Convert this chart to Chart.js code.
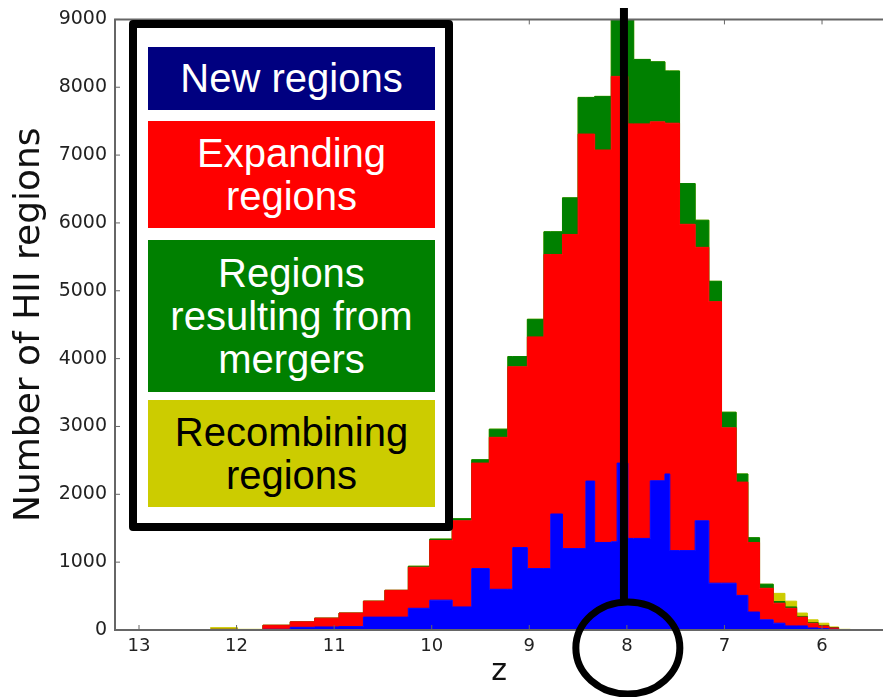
<!DOCTYPE html>
<html>
<head>
<meta charset="utf-8">
<script src="https://cdn.jsdelivr.net/npm/chart.js@4.4.1/dist/chart.umd.min.js"></script>
<style>
  html, body { margin: 0; padding: 0; background: #fff; overflow: hidden; }
  #wrap { position: relative; width: 883px; height: 697px; }
  #legendBox {
    position: absolute; left: 129px; top: 20px; width: 308px; height: 495px;
    border: 8px solid #000; border-radius: 4px; background: #fff;
  }
  .item {
    position: absolute; left: 11px; width: 287px;
    display: flex; align-items: center; justify-content: center; text-align: center;
    font-family: "Liberation Sans", Arial, sans-serif; font-size: 40px; line-height: 43px;
  }
</style>
</head>
<body>
<div id="wrap">
  <canvas id="chart" width="883" height="697"></canvas>
  <div id="legendBox">
    <div class="item" style="top:19px;height:63px;background:#000080;color:#fff">New regions</div>
    <div class="item" style="top:93px;height:107px;background:#ff0000;color:#fff">Expanding<br>regions</div>
    <div class="item" style="top:212px;height:152px;background:#008000;color:#fff">Regions<br>resulting from<br>mergers</div>
    <div class="item" style="top:372px;height:107px;background:#cccc00;color:#000">Recombining<br>regions</div>
  </div>
</div>
<script>
// bin edges in redshift (high z on the left)
const zEdges = [12.27, 11.99, 11.73, 11.45, 11.20, 10.95, 10.70, 10.48, 10.24, 10.02,
  9.79, 9.59, 9.41, 9.22, 9.17, 9.02, 8.85, 8.78, 8.66, 8.50,
  8.42, 8.33, 8.16, 8.10, 7.99, 7.93, 7.76, 7.61, 7.56, 7.46,
  7.30, 7.16, 7.03, 6.88, 6.76, 6.64, 6.50, 6.38, 6.26, 6.15,
  6.04, 5.93, 5.83, 5.71];

// counts per bin, one value per bin
const newRegions = [0, 0, 10, 40, 45, 50, 190, 190, 320, 440,
  340, 905, 600, 600, 1215, 905, 905, 1710, 1200, 1200,
  2195, 1290, 1300, 2460, 1350, 1350, 2200, 2300, 1170, 1170,
  1610, 690, 690, 510, 265, 150, 100, 60, 60, 30,
  20, 10, 0];
const expanding = [10, 5, 60, 80, 130, 200, 235, 395, 605, 880,
  1270, 1555, 2240, 3280, 2665, 3415, 4630, 3825, 4630, 6110,
  5115, 5785, 6860, 5700, 6110, 6110, 5290, 5170, 6300, 4810,
  4030, 4150, 2290, 1670, 1025, 465, 295, 260, 130, 70,
  40, 20, 5];
const mergers = [0, 0, 0, 0, 0, 0, 0, 0, 15, 20,
  30, 50, 120, 150, 150, 260, 335, 335, 540, 540,
  540, 790, 1140, 1140, 1840, 950, 885, 770, 770, 600,
  400, 300, 230, 120, 70, 60, 25, 20, 10, 10,
  5, 5, 0];
const recombining = [25, 5, 0, 0, 0, 0, 0, 0, 0, 0,
  0, 0, 0, 0, 0, 0, 0, 0, 0, 0,
  0, 0, 0, 0, 0, 0, 0, 0, 0, 0,
  0, 0, 0, 0, 0, 0, 120, 85, 50, 40,
  35, 10, 5];

const zTicks = [13, 12, 11, 10, 9, 8, 7, 6];
const yTicks = [0, 1000, 2000, 3000, 4000, 5000, 6000, 7000, 8000, 9000];
const zMin = 5.375, zMax = 13.246;

function steps(vals) {
  const pts = vals.map((v, i) => ({ x: zEdges[i], y: v }));
  pts.push({ x: zEdges[vals.length], y: vals[vals.length - 1] });
  return pts;
}

function layer(label, vals, color, fill) {
  return {
    label: label, data: steps(vals), stepped: true, fill: fill,
    backgroundColor: color, borderColor: color, borderWidth: 1,
    pointRadius: 0, clip: 0
  };
}

const framePlugin = {
  id: 'frame',
  afterDatasetsDraw(chart) {
    const ctx = chart.ctx, a = chart.chartArea;
    const x = chart.scales.x, y = chart.scales.y;
    ctx.save();
    ctx.strokeStyle = '#666';
    ctx.lineWidth = 2;
    ctx.beginPath();
    ctx.moveTo(a.right, a.top); ctx.lineTo(a.left, a.top);
    ctx.lineTo(a.left, a.bottom); ctx.lineTo(a.right, a.bottom);
    ctx.stroke();
    ctx.lineWidth = 1;
    ctx.beginPath();
    zTicks.forEach(v => {
      const px = x.getPixelForValue(v);
      ctx.moveTo(px, a.bottom); ctx.lineTo(px, a.bottom - 5);
      ctx.moveTo(px, a.top); ctx.lineTo(px, a.top + 5);
    });
    yTicks.forEach(v => {
      const py = y.getPixelForValue(v);
      ctx.moveTo(a.left, py); ctx.lineTo(a.left + 5, py);
    });
    ctx.stroke();

    // marker around z = 8
    ctx.strokeStyle = '#000';
    ctx.lineWidth = 8;
    const lx = x.getPixelForValue(8.03);
    ctx.beginPath();
    ctx.moveTo(lx, 8); ctx.lineTo(lx, 601);
    ctx.stroke();
    ctx.lineWidth = 7;
    ctx.beginPath();
    ctx.ellipse(x.getPixelForValue(7.99), 648, 52, 46, 0, 0, Math.PI * 2);
    ctx.stroke();
    ctx.restore();
  }
};

new Chart(document.getElementById('chart'), {
  type: 'line',
  data: {
    datasets: [
      layer('New regions', newRegions, '#0000ff', 'origin'),
      layer('Expanding regions', expanding, '#ff0000', '-1'),
      layer('Regions resulting from mergers', mergers, '#008000', '-1'),
      layer('Recombining regions', recombining, '#cccc00', '-1')
    ]
  },
  options: {
    responsive: false,
    animation: false,
    layout: { padding: { top: 15, right: 0, bottom: 0, left: 0 } },
    plugins: { legend: { display: false }, tooltip: { enabled: false } },
    scales: {
      x: {
        type: 'linear', reverse: true, min: zMin, max: zMax,
        grid: { display: false, drawTicks: false },
        border: { display: false },
        afterBuildTicks: s => { s.ticks = zTicks.map(v => ({ value: v })); },
        afterFit: s => { s.height = 67; },
        ticks: { padding: 6, autoSkip: false, maxRotation: 0, color: '#222',
                 font: { family: 'DejaVu Sans', size: 18 } },
        title: { display: true, text: 'z', color: '#111',
                 font: { family: 'DejaVu Sans', size: 30 }, padding: { top: 0, bottom: 7 } }
      },
      y: {
        stacked: true, min: 0, max: 9000,
        grid: { display: false, drawTicks: false },
        border: { display: false },
        afterBuildTicks: s => { s.ticks = yTicks.map(v => ({ value: v })); },
        afterFit: s => { s.width = 115; },
        ticks: { padding: 8, color: '#222', callback: v => String(v),
                 font: { family: 'DejaVu Sans', size: 19 } },
        title: { display: true, text: 'Number of HII regions', color: '#111',
                 font: { family: 'DejaVu Sans', size: 36 }, padding: { top: 8, bottom: 0 } }
      }
    }
  },
  plugins: [framePlugin]
});
</script>
</body>
</html>
